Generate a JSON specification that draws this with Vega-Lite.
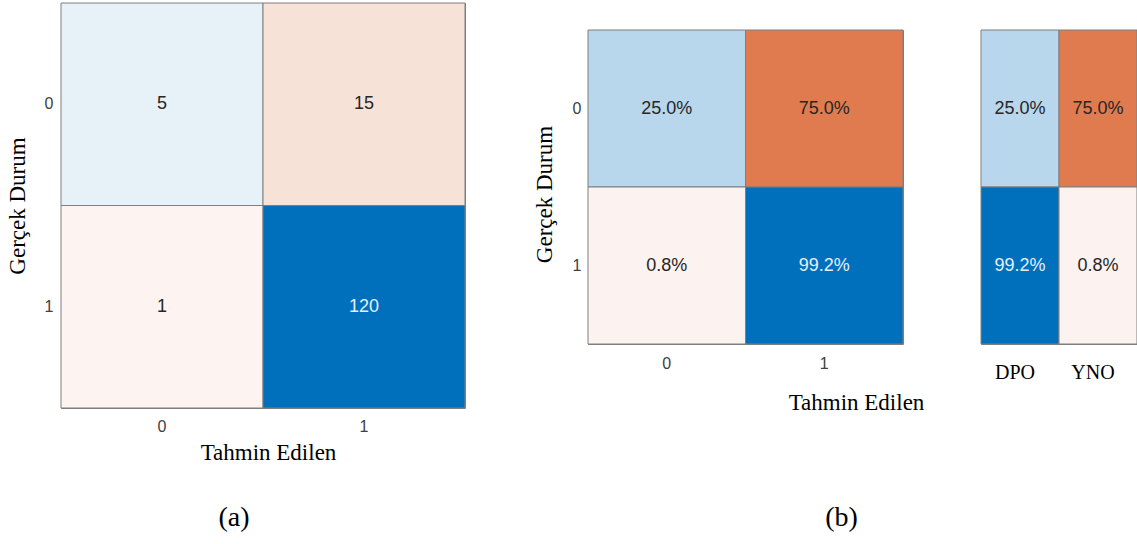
{
  "$schema": "https://vega.github.io/schema/vega-lite/v6.json",
  "background": "white",
  "padding": {"left": 5, "top": 2, "right": 0, "bottom": 0},
  "spacing": 66,
  "resolve": {"scale": {"color": "independent"}},
  "config": {
    "view": {"stroke": "#7f7f7f", "strokeWidth": 1},
    "axis": {
      "ticks": false, "domain": false, "grid": false, "labelAngle": 0,
      "labelFont": "Liberation Sans", "labelFontSize": 16, "labelColor": "#404040",
      "titleFont": "Liberation Serif", "titleFontSize": 23, "titleColor": "#000000", "titleFontWeight": "normal"
    },
    "title": {"font": "Liberation Serif", "fontSize": 28, "fontWeight": "normal", "color": "#000000"},
    "scale": {"bandPaddingInner": 0, "bandPaddingOuter": 0}
  },
  "hconcat": [
    {
      "width": 404, "height": 405,
      "data": {"values": [
        {"actual": "0", "pred": "0", "n": 5},
        {"actual": "0", "pred": "1", "n": 15},
        {"actual": "1", "pred": "0", "n": 1},
        {"actual": "1", "pred": "1", "n": 120}
      ]},
      "title": {"text": "(a)", "orient": "bottom", "anchor": "middle", "dx": -29, "offset": 40},
      "encoding": {
        "x": {"field": "pred", "type": "nominal", "axis": {"title": "Tahmin Edilen", "labelFontSize": 16, "labelFont": "Liberation Sans", "labelColor": "#404040", "labelPadding": 10, "titleX": 207, "titleY": 51, "titleBaseline": "alphabetic"}},
        "y": {"field": "actual", "type": "nominal", "axis": {"title": "Gerçek Durum", "labelFontSize": 16, "labelFont": "Liberation Sans", "labelColor": "#404040", "labelPadding": 8, "titlePadding": 15}}
      },
      "layer": [
        {
          "mark": {"type": "rect", "stroke": "#7f7f7f", "strokeWidth": 1},
          "encoding": {"color": {"field": "n", "type": "nominal", "scale": {"domain": [5, 15, 1, 120], "range": ["#e6f1f8", "#f7e2d7", "#fdf3f0", "#0070bd"]}, "legend": null}}
        },
        {
          "mark": {"type": "text", "font": "Liberation Sans", "fontSize": 18},
          "encoding": {
            "text": {"field": "n", "type": "quantitative"},
            "color": {"condition": {"test": "datum.n > 100", "value": "#e6eef7"}, "value": "#262626"}
          }
        }
      ]
    },
    {
      "bounds": "flush",
      "spacing": 0,
      "vconcat": [
        {
          "width": 1, "height": 27,
          "data": {"values": []},
          "mark": "point",
          "view": {"stroke": null}
        },
        {
          "spacing": 55,
          "hconcat": [
            {
              "width": 315, "height": 314,
              "data": {"values": [
                {"actual": "0", "pred": "0", "pct": 0.25},
                {"actual": "0", "pred": "1", "pct": 0.75},
                {"actual": "1", "pred": "0", "pct": 0.008},
                {"actual": "1", "pred": "1", "pct": 0.992}
              ]},
              "title": {"text": "(b)", "orient": "bottom", "anchor": "middle", "dx": 96, "offset": 90},
              "encoding": {
                "x": {"field": "pred", "type": "nominal", "axis": {"title": "Tahmin Edilen", "labelFontSize": 16, "labelFont": "Liberation Sans", "labelColor": "#404040", "labelPadding": 11, "titleX": 268, "titleY": 65, "titleBaseline": "alphabetic"}},
                "y": {"field": "actual", "type": "nominal", "axis": {"title": "Gerçek Durum", "labelFontSize": 16, "labelFont": "Liberation Sans", "labelColor": "#404040", "labelPadding": 7, "titlePadding": 16, "titleY": 164}}
              },
              "layer": [
                {
                  "mark": {"type": "rect", "stroke": "#7f7f7f", "strokeWidth": 1},
                  "encoding": {"color": {"field": "pct", "type": "nominal", "scale": {"domain": [0.25, 0.75, 0.008, 0.992], "range": ["#b8d6ec", "#e07b50", "#fcf3f0", "#0070bd"]}, "legend": null}}
                },
                {
                  "mark": {"type": "text", "font": "Liberation Sans", "fontSize": 18},
                  "encoding": {
                    "text": {"field": "pct", "type": "quantitative", "format": ".1%"},
                    "color": {"condition": {"test": "datum.pct > 0.9", "value": "#e6eef7"}, "value": "#262626"}
                  }
                }
              ]
            },
            {
              "width": 156, "height": 314,
              "data": {"values": [
                {"col": "DPO", "row": "0", "pct": 0.25},
                {"col": "DPO", "row": "1", "pct": 0.992},
                {"col": "YNO", "row": "0", "pct": 0.75},
                {"col": "YNO", "row": "1", "pct": 0.008}
              ]},
              "encoding": {
                "x": {"field": "col", "type": "nominal", "axis": {"title": null, "labelFont": "Liberation Serif", "labelFontSize": 20, "labelColor": "#000000", "labelPadding": 18, "labelOffset": -5}},
                "y": {"field": "row", "type": "nominal", "axis": null}
              },
              "layer": [
                {
                  "mark": {"type": "rect", "stroke": "#7f7f7f", "strokeWidth": 1},
                  "encoding": {"color": {"field": "pct", "type": "nominal", "scale": {"domain": [0.25, 0.75, 0.008, 0.992], "range": ["#b8d6ec", "#e07b50", "#fcf3f0", "#0070bd"]}, "legend": null}}
                },
                {
                  "mark": {"type": "text", "font": "Liberation Sans", "fontSize": 18},
                  "encoding": {
                    "text": {"field": "pct", "type": "quantitative", "format": ".1%"},
                    "color": {"condition": {"test": "datum.pct > 0.9", "value": "#e6eef7"}, "value": "#262626"}
                  }
                }
              ]
            }
          ]
        }
      ]
    }
  ]
}
